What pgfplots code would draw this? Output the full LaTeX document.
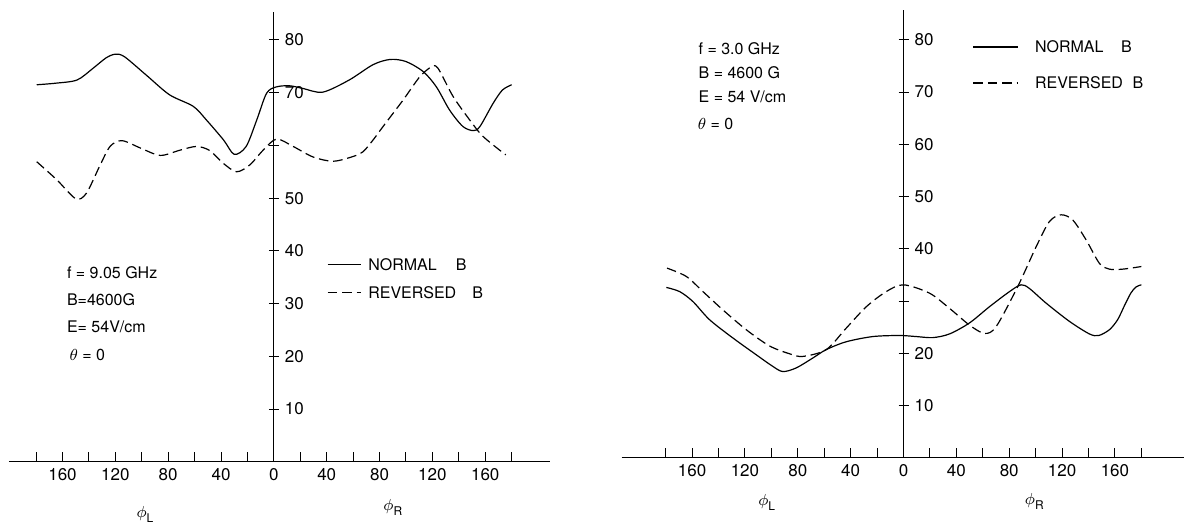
\documentclass[border=0pt]{standalone}
\usepackage{fontspec}
\setmainfont{TeX Gyre Heros}
\usepackage{pgfplots}
\pgfplotsset{compat=1.18}

\newcommand{\lbl}{\fontsize{8}{9.6}\selectfont}

\pgfplotsset{
  phiaxis/.style={
    scale only axis,
    axis lines=middle,
    axis line style={-, line width=0.6pt, black},
    hide obscured x ticks=false,
    hide obscured y ticks=false,
    ymin=0,
    xtick={-180,-160,...,180},
    xticklabels={,\mbox{160},,\mbox{120},,\mbox{80},,\mbox{40},,\mbox{0},,\mbox{40},,\mbox{80},,\mbox{120},,\mbox{160},},
    ytick={10,20,...,80},
    tick align=inside,
    major tick length=5pt,
    tick style={line width=0.5pt, black},
    ytick style={xshift=-2.5pt},
    yticklabel style={anchor=west, xshift=2pt},
    xticklabel style={anchor=north},
    tick label style={font=\fontsize{8.5}{10}\selectfont},
    clip=false,
    legend style={draw=none, fill=none, inner sep=0pt, font=\lbl,
      nodes={inner ysep=0pt, text height=5.8pt, text depth=0pt}},
    legend cell align=left,
  },
  normalB/.style={black, line width=0.6pt, no markers, smooth, tension=0.5},
  reversedB/.style={black, line width=0.6pt, no markers, smooth, tension=0.5,
    dash pattern=on 4.8pt off 2.4pt},
}

\begin{document}
\begin{tikzpicture}[font=\lbl]
\path (0,0) rectangle (592.5pt,264.5pt);

% f = 9.05 GHz
\begin{axis}[phiaxis,
  at={(4.5pt,33.5pt)}, anchor=south west,
  width=270.5pt, height=225pt,
  xmin=-200.5, xmax=208.8, ymax=85.3,
  yticklabels={\mbox{10},\mbox{20},\mbox{30},\mbox{40},\mbox{50},,\mbox{70},\mbox{80}},
  legend style={at={(axis cs:40,38.6)}, anchor=north west, row sep=8.2pt},
  legend image code/.code={\draw[#1] (0pt,0pt) -- (16.5pt,0pt);},
]
\addplot[normalB] coordinates {
(-179.5,71.5) (-165,71.8) (-149,72.4) (-137,74.6) (-127,76.6) (-120,77.3)
(-113,76.8) (-96,73.2) (-79,69.6) (-61,67.4) (-51,64.8) (-38,61.0)
(-30,58.3) (-21,59.8) (-13,64.8) (-5.5,69.9) (2,71.1) (12,71.3)
(22,70.8) (37,70.1) (57,72.4) (75,75.3) (88,76.3) (100,75.9)
(113,74.0) (123,71.1) (133,66.7) (143,63.6) (151,62.8) (156,63.6)
(166,68.0) (173,70.5) (180,71.5)
};
\addlegendentry{\hspace{1.5pt}NORMAL\hspace{1.2em}B}
\addplot[reversedB] coordinates {
(-179.5,56.9) (-164.4,53.5) (-150,49.9) (-142,50.9) (-132,56.0) (-124,59.8)
(-115,60.9) (-101,59.5) (-86,58.1) (-71,59.1) (-58.5,59.8) (-48.4,59.0)
(-38.3,56.6) (-28.2,55.0) (-18.2,56.3) (-8.1,59.1) (2,61.2) (14.6,59.8)
(29.7,57.8) (45,57.0) (60,57.9) (67.5,58.8) (75,61.0) (82.7,63.6)
(97.8,68.6) (110.4,73.0) (119.3,74.9) (124.3,74.6) (135.6,69.3)
(148.3,64.8) (158.3,61.7) (175.5,58.2)
};
\addlegendentry{\hspace{1.5pt}REVERSED\hspace{1em}B}

\node[anchor=base west] at (axis cs:-161.9,34.7) {f = 9.05 GHz};
\node[anchor=base west] at (axis cs:-161.9,29.6) {B=4600G};
\node[anchor=base west] at (axis cs:-161.9,24.5) {E= 54V/cm};
\node[anchor=base west] at (axis cs:-160,19.3) {$\theta$ = 0};
\node at (axis cs:-97.6,-10) {$\phi$\raisebox{-0.6ex}{\fontsize{6}{7}\selectfont L}};
\node at (axis cs:90,-8.7) {$\phi$\raisebox{-0.6ex}{\fontsize{6}{7}\selectfont R}};
\end{axis}

% f = 3.0 GHz
\begin{axis}[phiaxis,
  at={(311pt,35.5pt)}, anchor=south west,
  width=281.5pt, height=224pt,
  xmin=-213.3, xmax=212.6, ymax=85.7,
  yticklabels={\mbox{10},\mbox{20},,\mbox{40},\mbox{50},\mbox{60},\mbox{70},\mbox{80}},
  legend style={at={(axis cs:52.2,79.8)}, anchor=north west, row sep=12.2pt},
  legend image code/.code={\draw[#1] (0pt,0pt) -- (22.5pt,0pt);},
]
\addplot[normalB] coordinates {
(-179.5,32.6) (-169.4,31.8) (-159.4,29.9) (-146.7,26.4) (-129,22.9)
(-111.4,19.7) (-99,17.5) (-91.3,16.5) (-81.2,17.2) (-68.6,19.1)
(-58.5,20.7) (-43.4,22.2) (-23.2,23.2) (-3,23.4) (9.6,23.2) (22.2,23.0)
(34.8,23.7) (49.9,25.8) (65,28.9) (80.2,31.8) (89,33.1) (95.3,32.4)
(107.9,29.6) (125.6,26.1) (140.7,23.7) (147.7,23.4) (155.8,24.5)
(162,26.4) (167,29.0) (172,31.5) (176,32.7) (180,33.1)
};
\addlegendentry{\hspace{6pt}NORMAL\hspace{1.1em}B}
\addplot[reversedB] coordinates {
(-179,36.3) (-164.4,34.7) (-151.8,31.8) (-136.7,28.3) (-119,24.5)
(-101.4,21.4) (-86.2,19.9) (-76.2,19.4) (-58.5,20.7) (-43.4,24.8)
(-28.2,28.9) (-13.1,31.8) (0,33.1) (19.7,31.5) (34.8,28.6) (49.9,25.4)
(61.3,23.8) (70.1,25.1) (86.5,32.8) (100.4,40.4) (110.4,45.2)
(119.3,46.5) (128.1,45.5) (138.2,41.7) (148.3,37.2) (155.8,36.1)
(165.9,36.1) (180,36.6)
};
\addlegendentry{\hspace{6pt}REVERSED\hspace{0.6em}B}

\node[anchor=base west] at (axis cs:-160.4,77.2) {f = 3.0 GHz};
\node[anchor=base west] at (axis cs:-160.4,72.6) {B = 4600 G};
\node[anchor=base west] at (axis cs:-160.4,67.9) {E = 54 V/cm};
\node[anchor=base west] at (axis cs:-161,62.8) {$\theta$ = 0};
\node at (axis cs:-103.6,-8.6) {$\phi$\raisebox{-0.6ex}{\fontsize{6}{7}\selectfont L}};
\node at (axis cs:99,-8.4) {$\phi$\raisebox{-0.6ex}{\fontsize{6}{7}\selectfont R}};
\end{axis}
\end{tikzpicture}
\end{document}
